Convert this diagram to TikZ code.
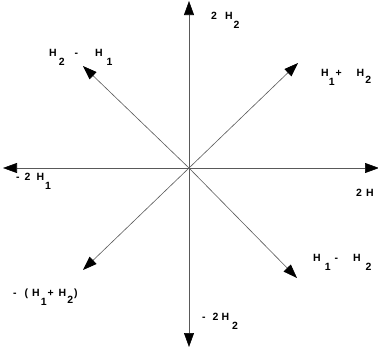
\documentclass[tikz,border=0pt]{standalone}
\usepackage{fontspec}
\setmainfont{Liberation Sans}
\usetikzlibrary{arrows.meta}
\newcommand{\lo}[1]{\raisebox{-9pt}{#1}}

\begin{document}
\begin{tikzpicture}[x=1pt, y=-1pt,
  vec/.style={-{Triangle[length=14pt,width=10pt,color=black]}, draw=black!65, line width=0.6pt},
  lbl/.style={font=\bfseries\fontsize{10.5}{12}\selectfont, anchor=base west, inner sep=0pt},
]
\useasboundingbox (0,0) rectangle (378,349);

% === Axes and diagonals ===
\coordinate (O) at (189,168);
\coordinate (up) at (189,1);
\coordinate (down) at (189,347);
\coordinate (left) at (3,168);
\coordinate (right) at (379,168);
\coordinate (ne) at (298,63);
\coordinate (nw) at (83,66);
\coordinate (se) at (297,278);
\coordinate (sw) at (83,270);

\foreach \t in {up,down,left,right,ne,nw,se,sw}
  \draw[vec] (O) -- (\t);

% === Labels ===
\node[lbl] (lup) at (211,19) {2\hspace{8pt}H\hspace{1pt}\lo{2}};
\node[lbl] (lnw) at (49,56) {H\hspace{2pt}\lo{2}\hspace{10pt}-\hspace{17pt}H\hspace{4pt}\lo{1}};
\node[lbl] (lne) at (321,76) {H\hspace{0pt}\lo{1}\hspace{1pt}+\hspace{15pt}H\hspace{1pt}\raisebox{-7pt}{2}};
\node[lbl] (lleft) at (16,180) {-\hspace{5pt}2\hspace{6pt}H\hspace{1pt}\lo{1}};
\node[lbl] (lright) at (356,196) {2\hspace{4pt}H};
\node[lbl] (lsw) at (13,296) {-\hspace{8pt}(\hspace{4pt}H\hspace{1pt}\lo{1}\hspace{1pt}+\hspace{5pt}H\hspace{1pt}\raisebox{-7pt}{2}\hspace{1pt})};
\node[lbl] (lse) at (313,261) {H\hspace{4pt}\lo{1}\hspace{4pt}-\hspace{15pt}H\hspace{5pt}\lo{2}};
\node[lbl] (ldown) at (202,320) {-\hspace{7pt}2\hspace{3pt}H\hspace{3pt}\lo{2}};

\end{tikzpicture}
\end{document}
